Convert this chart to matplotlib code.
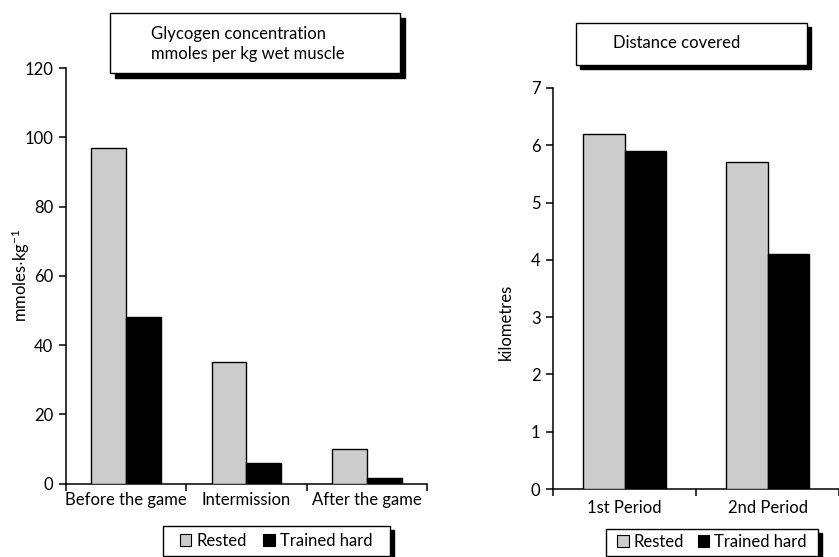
import matplotlib
matplotlib.use("Agg")
import matplotlib.pyplot as plt
from matplotlib.patches import Rectangle, Patch
import numpy as np

plt.rcParams['font.family'] = ['Lato', 'DejaVu Sans']
plt.rcParams['mathtext.default'] = 'regular'

# ---- data ----
glyc_categories = ["Before the game", "Intermission", "After the game"]
glyc_rested = [97, 35, 10]
glyc_trained = [48, 6, 1.5]
glyc_yticks = [0, 20, 40, 60, 80, 100, 120]

dist_categories = ["1st Period", "2nd Period"]
dist_rested = [6.2, 5.7]
dist_trained = [5.9, 4.1]
dist_yticks = [0, 1, 2, 3, 4, 5, 6, 7]

series_names = ["Rested", "Trained hard"]
GRAY = "#cccccc"
BLACK = "#000000"

W, H = 839, 557
FS = 12
fig = plt.figure(figsize=(W / 100, H / 100), dpi=100)

def fx(px):
    return px / W

def fy(py):
    return 1 - py / H

def style_axes(ax, ncat, yticks, ylabel, cats, xpad):
    for s in ["top", "right"]:
        ax.spines[s].set_visible(False)
    for s in ["left", "bottom"]:
        ax.spines[s].set_linewidth(1.1)
    ax.set_xlim(0, ncat)
    ax.set_ylim(yticks[0], yticks[-1])
    ax.set_yticks(yticks)
    ax.set_yticklabels([str(t) for t in yticks], fontsize=FS)
    ax.set_xticks(np.arange(ncat + 1))
    ax.set_xticklabels([])
    ax.set_xticks(np.arange(ncat) + 0.5, minor=True)
    ax.set_xticklabels(cats, minor=True, fontsize=FS)
    ax.tick_params(axis="x", which="minor", length=0, pad=xpad)
    ax.tick_params(axis="x", which="major", direction="out", length=5, width=1.1)
    ax.tick_params(axis="y", direction="out", length=5, width=1.1, pad=4)
    ax.set_ylabel(ylabel, fontsize=FS)

def bars(ax, rested, trained):
    x = np.arange(len(rested)) + 0.5
    bw = 0.29
    ax.bar(x - bw / 2, rested, width=bw, color=GRAY, edgecolor="black", linewidth=1.0, zorder=3)
    ax.bar(x + bw / 2, trained, width=bw, color=BLACK, edgecolor="black", linewidth=1.0, zorder=3)

def shadow_box(x0, y0, x1, y1, off):
    # pixel coordinates (top-left origin)
    sh = Rectangle((fx(x0 + off), fy(y1 + off)), fx(x1 - x0), (y1 - y0) / H,
                   transform=fig.transFigure, facecolor="black", edgecolor="black", zorder=1)
    bx = Rectangle((fx(x0), fy(y1)), fx(x1 - x0), (y1 - y0) / H,
                   transform=fig.transFigure, facecolor="white", edgecolor="black",
                   linewidth=1.0, zorder=2)
    fig.patches.extend([sh, bx])

# ---- left chart ----
ax1 = fig.add_axes([fx(66), fy(483.5), fx(427 - 66), (483.5 - 68) / H])
bars(ax1, glyc_rested, glyc_trained)
style_axes(ax1, len(glyc_categories), glyc_yticks, "mmoles$\\cdot$kg$^{-1}$", glyc_categories, 6)
ax1.yaxis.set_label_coords(-0.094, 0.5)

# ---- right chart ----
ax2 = fig.add_axes([fx(553), fy(489), fx(839 - 553), (489 - 88) / H])
bars(ax2, dist_rested, dist_trained)
style_axes(ax2, len(dist_categories), dist_yticks, "kilometres", dist_categories, 8)
ax2.yaxis.set_label_coords(-0.136, 0.416)

# ---- title boxes ----
shadow_box(110, 13, 400, 73, 5)
fig.text(fx(151), fy(44), "Glycogen concentration\nmmoles per kg wet muscle",
         ha="left", va="center", fontsize=FS, linespacing=1.35, zorder=3)

shadow_box(576, 23, 807, 65, 4)
fig.text(fx(613), fy(43), "Distance covered", ha="left", va="center", fontsize=FS, zorder=3)

# ---- legends ----
handles = [Patch(facecolor=GRAY, edgecolor="black", linewidth=0.8, label=series_names[0]),
           Patch(facecolor=BLACK, edgecolor="black", linewidth=0.8, label=series_names[1])]

shadow_box(163, 526, 390, 556, 4)
fig.legend(handles=handles, loc="center", bbox_to_anchor=(fx(276), fy(541)), ncol=2,
           frameon=False, fontsize=FS, handlelength=0.7, handleheight=0.7,
           handletextpad=0.3, columnspacing=1.0, borderpad=0)

shadow_box(606, 529, 818, 556, 4)
fig.legend(handles=handles, loc="center", bbox_to_anchor=(fx(712), fy(542)), ncol=2,
           frameon=False, fontsize=FS, handlelength=0.7, handleheight=0.7,
           handletextpad=0.3, columnspacing=0.8, borderpad=0)

fig.savefig("out.png", dpi=100)
